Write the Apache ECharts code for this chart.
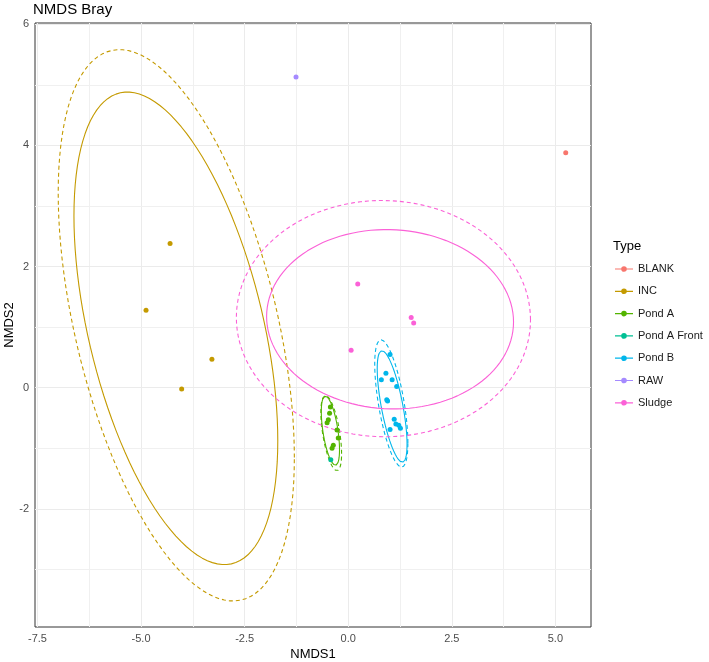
<!DOCTYPE html>
<html>
<head>
<meta charset="utf-8">
<script src="https://cdn.jsdelivr.net/npm/echarts@6/dist/echarts.min.js"></script>
<style>
  html, body { margin: 0; padding: 0; background: #fff; }
  #nmds { width: 709px; height: 662px; }
</style>
</head>
<body>
<div id="nmds"></div>
<script>
// groups and colours (ggplot hue palette)
var types = ['BLANK', 'INC', 'Pond A', 'Pond A Front', 'Pond B', 'RAW', 'Sludge'];
var typeColors = ['#F8766D', '#C49A00', '#53B400', '#00C094', '#00B6EB', '#A58AFF', '#FB61D7'];

// sample scores
var blankX = [5.25], blankY = [3.88];
var incX = [-4.30, -4.88, -3.29, -4.02], incY = [2.38, 1.28, 0.47, -0.02];
var pondAX = [-0.43, -0.45, -0.48, -0.51, -0.27, -0.24, -0.36, -0.39];
var pondAY = [-0.32, -0.42, -0.53, -0.58, -0.70, -0.83, -0.95, -1.00];
var pondAFrontX = [-0.42], pondAFrontY = [-1.19];
var pondBX = [1.01, 0.91, 0.80, 1.06, 1.17, 0.93, 0.95, 1.11, 1.22, 1.26, 1.15, 1.01];
var pondBY = [0.55, 0.24, 0.13, 0.13, 0.02, -0.20, -0.22, -0.52, -0.62, -0.67, -0.60, -0.69];
var rawX = [-1.26], rawY = [5.13];
var sludgeX = [0.23, 1.52, 1.58, 0.07], sludgeY = [1.71, 1.16, 1.07, 0.62];

// ellipses: centre x, centre y, half width, half height, correlation
var incT = [-4.16, 0.98, 2.46, 3.90, -0.476];
var incNorm = [-4.15, 1.03, 2.85, 4.55, -0.48];
var pondAT = [-0.43, -0.71, 0.22, 0.57, -0.55];
var pondANorm = [-0.41, -0.75, 0.25, 0.62, -0.55];
var pondBT = [1.06, -0.31, 0.36, 0.92, -0.68];
var pondBNorm = [1.04, -0.26, 0.40, 1.05, -0.62];
var sludgeT = [1.01, 1.13, 2.98, 1.48, -0.03];
var sludgeNorm = [0.85, 1.14, 3.55, 1.95, -0.01];

// axis ticks
var xTicks = [-7.5, -5.0, -2.5, 0.0, 2.5, 5.0];
var xMinor = [-6.25, -3.75, -1.25, 1.25, 3.75];
var yTicks = [-2, 0, 2, 4, 6];
var yMinor = [-3, -1, 1, 3, 5];

function pts(xs, ys) {
    var out = [];
    for (var i = 0; i < xs.length; i++) out.push([xs[i], ys[i]]);
    return out;
}

function ellipse(p) {
    var out = [];
    var n = 120;
    var s = Math.sqrt(1 - p[4] * p[4]);
    for (var k = 0; k <= n; k++) {
        var t = 2 * Math.PI * k / n;
        out.push([p[0] + p[2] * Math.cos(t),
                  p[1] + p[4] * p[3] * Math.cos(t) + s * p[3] * Math.sin(t)]);
    }
    return out;
}

var dom = document.getElementById('nmds');
var myChart = echarts.init(dom, null, { renderer: 'canvas' });

var groups = [
    [blankX, blankY], [incX, incY], [pondAX, pondAY], [pondAFrontX, pondAFrontY],
    [pondBX, pondBY], [rawX, rawY], [sludgeX, sludgeY]
];

var seriesArr = [];
for (var i = 0; i < types.length; i++) {
    seriesArr.push({
        name: types[i],
        type: 'scatter',
        data: pts(groups[i][0], groups[i][1]),
        symbolSize: 5,
        itemStyle: { color: typeColors[i], opacity: 1 },
        z: 4,
        silent: true,
        animation: false
    });
}

var ellipses = [
    ['INC', incT, 'solid'], ['INC', incNorm, 'dashed'],
    ['Pond A', pondAT, 'solid'], ['Pond A', pondANorm, 'dashed'],
    ['Pond B', pondBT, 'solid'], ['Pond B', pondBNorm, 'dashed'],
    ['Sludge', sludgeT, 'solid'], ['Sludge', sludgeNorm, 'dashed']
];
for (var j = 0; j < ellipses.length; j++) {
    var c = typeColors[types.indexOf(ellipses[j][0])];
    seriesArr.push({
        name: ellipses[j][0],
        type: 'line',
        data: ellipse(ellipses[j][1]),
        showSymbol: false,
        symbol: 'none',
        smooth: false,
        lineStyle: {
            color: c,
            width: 1.1,
            type: ellipses[j][2] === 'dashed' ? [4, 3] : 'solid'
        },
        itemStyle: { color: c },
        z: 3,
        silent: true,
        animation: false
    });
}

// grid lines drawn from the tick lists
var gridLines = [];
xTicks.forEach(function (v) { gridLines.push({ xAxis: v, lineStyle: { color: '#EBEBEB', width: 1 } }); });
xMinor.forEach(function (v) { gridLines.push({ xAxis: v, lineStyle: { color: '#F0F0F0', width: 1 } }); });
yTicks.forEach(function (v) { gridLines.push({ yAxis: v, lineStyle: { color: '#EBEBEB', width: 1 } }); });
yMinor.forEach(function (v) { gridLines.push({ yAxis: v, lineStyle: { color: '#F0F0F0', width: 1 } }); });
seriesArr.push({
    name: 'grid',
    type: 'line',
    data: [],
    silent: true,
    animation: false,
    z: 1,
    markLine: {
        silent: true,
        symbol: 'none',
        label: { show: false },
        lineStyle: { type: 'solid' },
        animation: false,
        z: 1,
        data: gridLines
    }
});

var legendIcon = 'path://M0,4.4 H18 V5.6 H0 Z M9,2.2 A2.8,2.8 0 1,1 8.99,2.2 Z';

var option = {
    backgroundColor: '#fff',
    animation: false,
    textStyle: { fontFamily: '"Liberation Sans", Arial, sans-serif' },
    title: [{
        text: 'NMDS Bray',
        left: 33, top: 2, padding: 0,
        textStyle: { fontSize: 15, fontWeight: 'normal', color: '#000' }
    }, {
        text: 'Type',
        left: 613, top: 240, padding: 0,
        textStyle: { fontSize: 13, fontWeight: 'normal', color: '#000' }
    }],
    legend: {
        orient: 'vertical',
        left: 615,
        top: 262,
        padding: 0,
        itemWidth: 18,
        itemHeight: 10,
        itemGap: 8.3,
        icon: legendIcon,
        data: types,
        textStyle: { fontSize: 11, color: '#1a1a1a', lineHeight: 14 },
        selectedMode: false
    },
    grid: {
        left: 35, right: 118, top: 23, bottom: 35,
        show: true, borderColor: '#333', borderWidth: 1,
        containLabel: false,
        outerBoundsMode: 'none'
    },
    xAxis: {
        type: 'value',
        min: -7.56, max: 5.86,
        name: 'NMDS1',
        nameLocation: 'middle',
        nameGap: 21,
        nameMoveOverlap: false,
        nameTextStyle: { fontSize: 13, color: '#000' },
        axisLine: { show: false },
        axisTick: { show: true, length: 3, customValues: xTicks, lineStyle: { color: '#333' } },
        axisLabel: {
            customValues: xTicks, margin: 6, fontSize: 11, color: '#4D4D4D',
            formatter: function (v) { return v.toFixed(1); }
        },
        splitLine: { show: false }
    },
    yAxis: {
        type: 'value',
        min: -3.95, max: 6.02,
        name: 'NMDS2',
        nameLocation: 'middle',
        nameGap: 19,
        nameMoveOverlap: false,
        nameTextStyle: { fontSize: 13, color: '#000' },
        axisLine: { show: false },
        axisTick: { show: true, length: 3, customValues: yTicks, lineStyle: { color: '#333' } },
        axisLabel: { customValues: yTicks, margin: 6, fontSize: 11, color: '#4D4D4D' },
        splitLine: { show: false }
    },
    series: seriesArr
};

myChart.setOption(option, true);
window.onresize = myChart.resize;
</script>
</body>
</html>
